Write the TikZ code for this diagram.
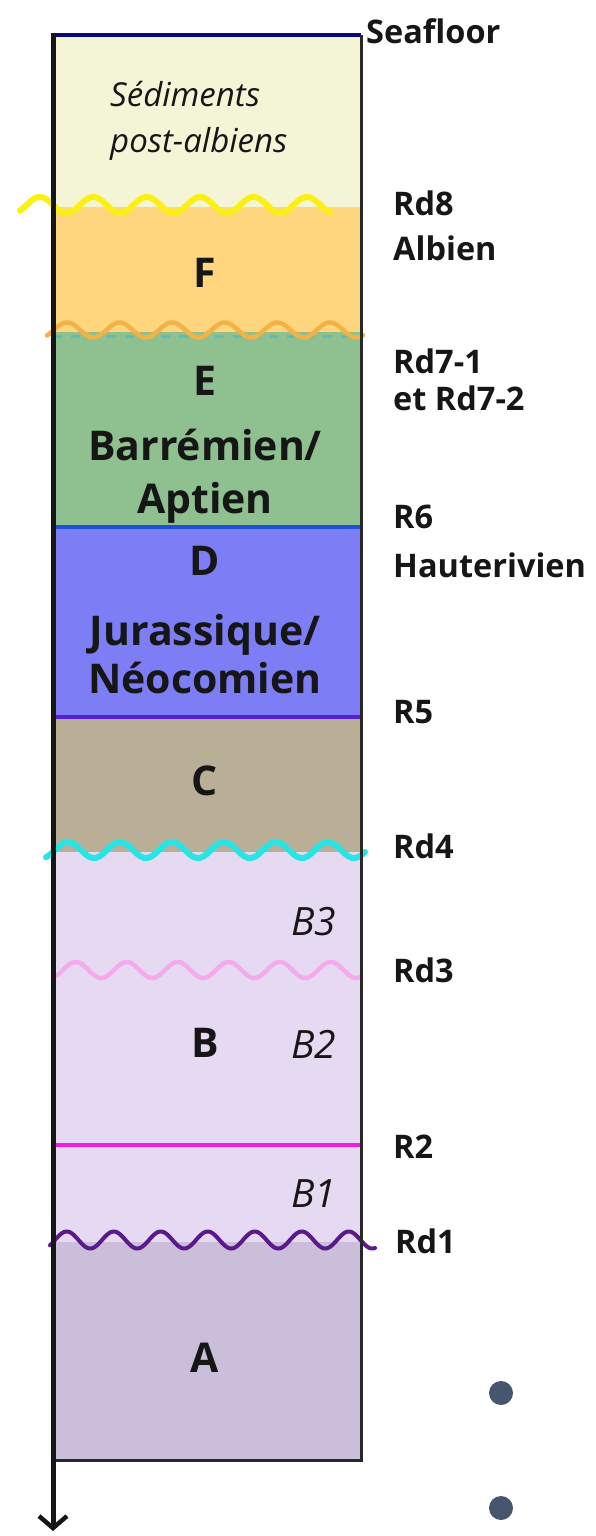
\documentclass[tikz,border=0pt]{standalone}
\usepackage{fontspec}
\setmainfont{Open Sans}
\usetikzlibrary{arrows.meta}
\definecolor{ink}{RGB}{22,22,22}
\definecolor{frame}{RGB}{40,40,40}
\definecolor{sedfill}{RGB}{244,245,214}
\definecolor{ffill}{RGB}{255,214,125}
\definecolor{efill}{RGB}{143,192,143}
\definecolor{dfill}{RGB}{125,125,245}
\definecolor{cfill}{RGB}{185,175,150}
\definecolor{bfill}{RGB}{230,218,243}
\definecolor{afill}{RGB}{203,190,218}
\definecolor{seafl}{RGB}{10,10,120}
\definecolor{rdeight}{RGB}{250,240,20}
\definecolor{rdseven}{RGB}{242,178,70}
\definecolor{teal7}{RGB}{90,190,190}
\definecolor{rsix}{RGB}{30,80,220}
\definecolor{rfive}{RGB}{90,30,210}
\definecolor{rdfour}{RGB}{40,228,228}
\definecolor{rdthree}{RGB}{245,170,235}
\definecolor{rtwo}{RGB}{240,30,220}
\definecolor{rdone}{RGB}{90,25,140}
\definecolor{dotcol}{RGB}{70,86,110}
\newcommand\wavyline[7]{\draw[#7] plot[domain=#1:#2,samples=300,smooth] (\x,{#3-#6*sin((\x-#4)/#5*360)});}
\tikzset{
  biglab/.style={font=\fontsize{41}{41}\selectfont\bfseries, text=ink, anchor=base, inner sep=0pt},
  itlab/.style={font=\fontsize{33}{33}\selectfont\itshape, text=ink, anchor=base west, inner sep=0pt},
  sublab/.style={font=\fontsize{39}{39}\selectfont\itshape, text=ink, anchor=base, inner sep=0pt},
  rlab/.style={font=\fontsize{32.5}{32.5}\selectfont\bfseries, text=ink, anchor=base west, inner sep=0pt},
  hline/.style={line width=4pt},
  wline/.style={line width=6pt, line cap=round},
}
\begin{document}
\begin{tikzpicture}[x=1pt,y=-1pt]
\useasboundingbox (0,0) rectangle (596,1536);
% layer fills
\fill[sedfill] (53,35) rectangle (361,207);
\fill[ffill] (53,207) rectangle (361,332);
\fill[efill] (53,332) rectangle (361,527);
\fill[dfill] (53,527) rectangle (361,717);
\fill[cfill] (53,717) rectangle (361,852);
\fill[bfill] (53,852) rectangle (361,1242);
\fill[afill] (53,1242) rectangle (361,1460);
% boundaries
\draw[hline, seafl] (53,35) -- (361,35);
\wavyline{20}{330}{205}{26.6}{53.4}{8}{wline, rdeight}
\draw[line width=3pt, teal7, dash pattern=on 9pt off 9pt] (53,336) -- (361,336);
\wavyline{47}{363}{330}{53.8}{52.6}{7.5}{line width=4.5pt, line cap=round, rdseven}
\draw[line width=3.5pt, rsix] (53,527) -- (361,527);
\draw[hline, rfive] (53,717) -- (361,717);
\wavyline{46}{365}{850}{55}{52}{8}{wline, rdfour}
\wavyline{57}{361}{970}{63}{51}{8}{line width=4.5pt, line cap=round, rdthree}
\draw[hline, rtwo] (53,1145) -- (361,1145);
\wavyline{50}{375}{1240}{55}{47}{8.5}{line width=4pt, line cap=round, rdone}
% frame
\draw[line width=3pt, frame] (361,35) -- (361,1460) -- (53,1460);
\draw[line width=5pt, ink, -{Straight Barb[length=12pt,width=28pt,line width=4.5pt]}] (53,33) -- (53,1531);
% labels in column
\node[itlab] (sed1) at (110,107) {Sédiments};
\node[itlab] (sed2) at (110,153) {post-albiens};
\node[biglab] (labF) at (205,287) {F};
\node[biglab] (labE) at (205,395) {E};
\node[biglab] (labE2) at (205,460) {Barrémien/};
\node[biglab] (labE3) at (205,513) {Aptien};
\node[biglab] (labD) at (205,575) {D};
\node[biglab] (labD2) at (205,645) {Jurassique/};
\node[biglab] (labD3) at (205,693) {Néocomien};
\node[biglab] (labC) at (205,795) {C};
\node[sublab] (labB3) at (314,935) {B3};
\node[biglab] (labB) at (205,1057) {B};
\node[sublab] (labB2) at (314,1058) {B2};
\node[sublab] (labB1) at (314,1207) {B1};
\node[biglab] (labA) at (205,1372) {A};
% labels on the right
\node[rlab] (sea) at (366,44) {Seafloor};
\node[rlab] (rd8) at (393,215) {Rd8};
\node[rlab] (alb) at (393,260) {Albien};
\node[rlab] (rd7a) at (393,373) {Rd7-1};
\node[rlab] (rd7b) at (393,410) {et Rd7-2};
\node[rlab] (r6) at (393,528) {R6};
\node[rlab] (hau) at (393,577) {Hauterivien};
\node[rlab] (r5) at (393,723) {R5};
\node[rlab] (rd4) at (393,858) {Rd4};
\node[rlab] (rd3) at (393,982) {Rd3};
\node[rlab] (r2) at (393,1158) {R2};
\node[rlab] (rd1) at (395,1253) {Rd1};
% dots
\fill[dotcol] (501,1393) circle (12);
\fill[dotcol] (501,1508) circle (12);
\end{tikzpicture}
\end{document}
